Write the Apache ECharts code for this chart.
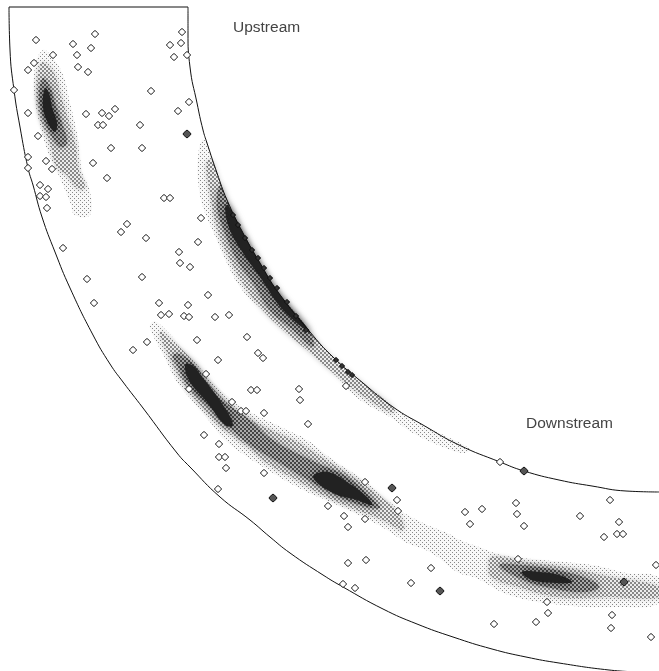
<!DOCTYPE html>
<html>
<head>
<meta charset="utf-8">
<style>
  html, body { margin: 0; padding: 0; background: #fff; }
  #chart { width: 659px; height: 671px; }
</style>
<script src="https://cdn.jsdelivr.net/npm/echarts@6/dist/echarts.min.js"></script>
</head>
<body>
<div id="chart"></div>
<script>
const outerWall = [[9,7],[10,50],[14,90],[20,127],[28,168],[33,185],[42,217],[55,252],[70,288],[93,335],[110,364],[123,382],[143,408],[177,453],[190,467],[220,497],[250,520],[270,537],[290,553],[323,575],[343,587],[383,609],[417,624],[453,637],[492,649],[526,657],[559,663],[609,670],[639,672]];
const innerWall = [[188,7],[188,33],[190,67],[197,103],[203,130],[207,143],[217,173],[227,200],[243,233],[260,263],[278,292],[310,332],[333,357],[363,383],[393,407],[423,425],[459,445],[500,462],[524,471],[559,480],[592,486],[626,491],[659,492]];
const inletEdge = [[9,7],[188,7]];

const openPoints = [[36,40],[95,34],[73,44],[91,48],[77,55],[53,55],[34,63],[28,70],[78,67],[88,72],[182,32],[181,43],[170,45],[174,57],[187,55],[151,91],[189,102],[178,111],[14,90],[28,113],[86,114],[102,113],[109,116],[115,109],[98,125],[103,125],[140,125],[38,136],[111,148],[142,148],[28,157],[46,161],[93,163],[28,168],[52,169],[107,178],[40,185],[48,189],[40,196],[46,197],[47,208],[164,198],[170,198],[201,218],[127,224],[121,232],[146,238],[198,242],[63,248],[179,252],[180,263],[190,267],[142,277],[87,279],[94,303],[208,295],[159,303],[188,305],[161,315],[169,314],[184,316],[189,317],[215,317],[229,315],[247,337],[197,340],[147,342],[133,350],[258,353],[263,358],[218,360],[206,374],[189,389],[251,390],[257,390],[299,389],[300,400],[232,402],[241,411],[246,411],[264,413],[308,424],[204,435],[219,444],[219,457],[225,457],[226,468],[264,473],[218,489],[346,386],[365,482],[397,500],[398,511],[328,506],[344,516],[365,519],[348,527],[366,560],[348,563],[343,584],[355,588],[411,583],[431,568],[465,512],[482,509],[470,524],[500,462],[516,503],[517,514],[580,516],[610,500],[619,522],[617,534],[623,534],[604,537],[524,526],[518,559],[656,565],[547,602],[548,613],[536,622],[494,624],[612,615],[611,628],[651,637]];
const wallPoints = [[233,215],[238,225],[245,238],[252,250],[258,258],[264,268],[270,278],[277,288],[287,302],[296,316],[306,330],[336,360],[342,366],[348,372],[352,375]];
const heavyPoints = [[187,134],[273,498],[392,488],[524,471],[624,582],[440,591]];

// density outlines: level 1 palest, level 4 darkest
const level1 = [
  [[43,50],[35,67],[35,100],[42,133],[50,157],[55,167],[63,185],[70,202],[75,215],[90,215],[90,192],[82,172],[80,157],[77,133],[70,103],[63,75],[52,57]],
  [[202,140],[198,157],[198,180],[203,207],[217,240],[227,263],[240,287],[257,305],[280,323],[307,345],[323,363],[340,380],[360,400],[390,417],[413,433],[443,447],[463,453],[470,449],[423,425],[393,407],[363,383],[333,357],[310,332],[278,292],[260,263],[243,233],[227,200],[217,173],[207,143]],
  [[152,322],[150,328],[165,358],[177,382],[190,398],[207,418],[227,442],[273,473],[303,490],[333,503],[363,517],[387,530],[407,543],[430,552],[459,573],[476,578],[509,595],[562,605],[619,607],[659,603],[659,578],[626,573],[592,565],[542,560],[502,555],[479,547],[460,540],[447,533],[423,523],[400,510],[363,480],[333,460],[307,440],[283,428],[243,408],[223,392],[200,368],[177,342],[157,322]]
];
const level2 = [
  [[42,63],[37,87],[40,117],[50,143],[57,167],[67,175],[77,188],[85,188],[78,168],[75,143],[67,117],[60,93],[52,70]],
  [[212,160],[207,163],[210,193],[217,227],[227,253],[243,283],[260,307],[283,330],[307,350],[330,370],[365,397],[393,413],[393,407],[363,383],[333,357],[310,332],[278,292],[260,263],[243,233],[227,200],[217,173]],
  [[160,332],[170,358],[183,382],[203,408],[223,428],[250,448],[267,463],[297,480],[323,495],[350,507],[383,520],[403,530],[397,512],[367,487],[337,467],[310,450],[297,442],[260,425],[233,408],[210,385],[190,358],[173,342]],
  [[492,557],[526,562],[569,568],[609,577],[659,587],[659,597],[609,597],[559,597],[519,587],[492,577],[489,567]]
];
const level3 = [
  [[43,78],[39,97],[43,117],[50,133],[60,147],[67,143],[62,123],[55,103],[50,87]],
  [[220,185],[217,207],[225,233],[237,260],[253,283],[270,310],[293,330],[313,347],[310,332],[278,292],[260,263],[243,233],[227,200]],
  [[173,355],[177,365],[190,388],[210,408],[230,428],[250,445],[275,460],[303,477],[333,493],[360,505],[380,508],[370,497],[347,477],[317,463],[290,450],[270,438],[250,420],[233,408],[213,392],[197,368],[182,355]],
  [[499,565],[519,578],[546,587],[582,592],[599,587],[586,578],[556,570],[522,565]]
];
const level4 = [
  [[45,88],[43,107],[48,123],[55,132],[57,123],[52,107],[49,93]],
  [[225,208],[230,230],[243,253],[260,277],[283,310],[310,332],[278,292],[260,263],[243,233],[228,205]],
  [[185,365],[190,382],[207,402],[225,425],[233,425],[223,405],[203,378],[192,365]],
  [[313,477],[333,493],[357,500],[372,505],[367,497],[347,482],[327,472]],
  [[522,572],[532,580],[556,583],[572,582],[559,575],[539,572]]
];
const labelTexts = ['Upstream', 'Downstream'];
const labelSpots = [[233,29],[526,425]];

const beadSymbol = 'path://M5 0L8.6 3L10 5L8.6 7L5 10L1.4 7L0 5L1.4 3Z';

// small halftone tiles, same 45 degree lattice as the scanned shading
function halftone(back, dot, r) {
  const c = document.createElement('canvas');
  c.width = 4; c.height = 4;
  const g = c.getContext('2d');
  if (back) { g.fillStyle = back; g.fillRect(0, 0, 4, 4); }
  g.fillStyle = dot;
  g.fillRect(0, 0, r, r);
  g.fillRect(2, 2, r, r);
  return { image: c, repeat: 'repeat' };
}

function densityLayer(rings, fill, z, blur, blurColor) {
  return {
    type: 'custom',
    coordinateSystem: 'cartesian2d',
    silent: true,
    z: z,
    clip: true,
    encode: { x: 0, y: 1 },
    data: rings.map((r, i) => [r[0][0], r[0][1], i]),
    renderItem(params, api) {
      const ring = rings[api.value(2)];
      return {
        type: 'polygon',
        shape: { points: ring.map(p => api.coord(p)), smooth: 0.4 },
        style: { fill: fill, shadowBlur: blur, shadowColor: blurColor }
      };
    }
  };
}

function wall(points, smooth) {
  return {
    type: 'line',
    data: points,
    smooth: smooth,
    showSymbol: false,
    silent: true,
    z: 6,
    lineStyle: { color: '#111', width: 1 }
  };
}

function markers(points, fill, stroke, size) {
  return {
    type: 'scatter',
    data: points,
    symbol: beadSymbol,
    symbolSize: size,
    silent: true,
    z: 8,
    itemStyle: { color: fill, borderColor: stroke, borderWidth: 1, opacity: 1 }
  };
}

const chart = echarts.init(document.getElementById('chart'));
chart.setOption({
  animation: false,
  backgroundColor: '#fff',
  grid: { left: 0, right: 0, top: 0, bottom: 0 },
  xAxis: { type: 'value', min: 0, max: 659, show: false },
  yAxis: { type: 'value', min: 0, max: 671, inverse: true, show: false },
  graphic: labelTexts.map((t, i) => ({
    type: 'text',
    left: labelSpots[i][0],
    top: labelSpots[i][1] - 9,
    z: 20,
    style: { text: t, fill: '#444', font: '15.5px "Liberation Sans"' }
  })),
  series: [
    densityLayer(level1, halftone('#f8f8f8', '#888', 1), 1, 0, 'transparent'),
    densityLayer(level2, halftone('#ececec', '#888', 2), 2, 5, 'rgba(0,0,0,0.2)'),
    densityLayer(level3, halftone('#aaa', '#444', 2), 3, 6, 'rgba(0,0,0,0.3)'),
    densityLayer(level4, '#222', 4, 7, 'rgba(0,0,0,0.55)'),
    wall(outerWall, true),
    wall(innerWall, true),
    wall(inletEdge, false),
    markers(wallPoints, '#333', '#111', 5),
    markers(openPoints, '#fff', '#222', 7),
    markers(heavyPoints, '#555', '#111', 8)
  ]
});
</script>
</body>
</html>
